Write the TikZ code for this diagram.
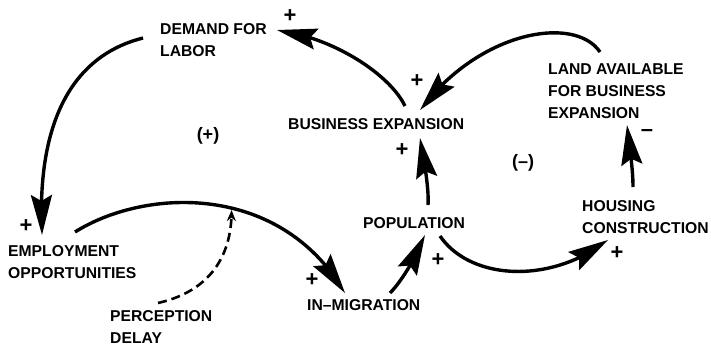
\documentclass[tikz,border=0pt]{standalone}
\usepackage{fontspec}
\setmainfont{Liberation Sans}
\usetikzlibrary{arrows.meta,bending}
\begin{document}
\begin{tikzpicture}[x=1pt,y=-1pt,
  lbl/.style={font=\bfseries\fontsize{15.7}{22}\selectfont, inner sep=0pt, anchor=north west, align=left},
  sgn/.style={font=\bfseries\fontsize{22}{22}\selectfont, inner sep=0pt},
  loopsgn/.style={font=\bfseries\fontsize{18}{18}\selectfont, inner sep=0pt},
  link/.style={line width=3.4pt, -{Stealth[length=40pt,width=21pt,inset=6pt]}},
  delaylink/.style={line width=2.6pt, dash pattern=on 9pt off 5pt, -{Stealth[length=11pt,width=9pt]}}]
\useasboundingbox (0,0) rectangle (711,351);
% variables
\node[lbl] (demand)  at (160,23)  {DEMAND FOR\\LABOR};
\node[lbl] (employ)  at (8,245)   {EMPLOYMENT\\OPPORTUNITIES};
\node[lbl] (perc)    at (110,310) {PERCEPTION\\DELAY};
\node[lbl] (inmig)   at (307,299) {IN–MIGRATION};
\node[lbl] (pop)     at (363,217) {POPULATION};
\node[lbl] (bus)     at (288,118) {BUSINESS EXPANSION};
\node[lbl] (land)    at (548,63)  {LAND AVAILABLE\\FOR BUSINESS\\EXPANSION};
\node[lbl] (housing) at (582,200) {HOUSING\\CONSTRUCTION};
% loop polarities
\node[loopsgn] (loopA) at (208,136) {(+)};
\node[loopsgn] (loopB) at (523,163) {(–)};
% link polarities
\node[sgn] (sA) at (290,16)  {+};
\node[sgn] (sB) at (26,226)  {+};
\node[sgn] (sC) at (312,280) {+};
\node[sgn] (sD) at (438,260) {+};
\node[sgn] (sE) at (402,150) {+};
\node[sgn] (sF) at (417,81)  {+};
\node[sgn] (sG) at (647,133) {–};
\node[sgn] (sH) at (617,253) {+};
% links
\draw[link] ([shift={(117,-12)}]bus.north west) .. controls (390,75) and (335,38) .. ([shift={(117,7)}]demand.north west);
\draw[link] ([shift={(-17,15)}]demand.north west) .. controls (75,55) and (36,118) .. ([shift={(34,-10)}]employ.north west);
\draw[link] ([shift={(67,-13)}]employ.north west) .. controls (145,188) and (280,182) .. ([shift={(38,-6)}]inmig.north west)
  coordinate[pos=0.565] (delayhit);
\draw[delaylink] ([shift={(48,-7)}]perc.north west) .. controls (215,290) and (232,250) .. ([yshift=-2pt]delayhit);
\draw[link] ([shift={(83,-6)}]inmig.north west) .. controls (400,283) and (415,260) .. ([shift={(62,18)}]pop.north west);
\draw[link] ([shift={(65,-12)}]pop.north west) .. controls (429,190) and (425,165) .. ([shift={(132,20)}]bus.north west);
\draw[link] ([shift={(52,-11)}]land.north west) .. controls (575,15) and (480,30) .. ([shift={(132,-8)}]bus.north west);
\draw[link] ([shift={(51,-13)}]housing.north west) .. controls (633,170) and (630,150) .. ([shift={(79,62)}]land.north west);
\draw[link] ([shift={(77,19)}]pop.north west) .. controls (470,280) and (550,285) .. ([shift={(26,40)}]housing.north west);
\end{tikzpicture}
\end{document}
